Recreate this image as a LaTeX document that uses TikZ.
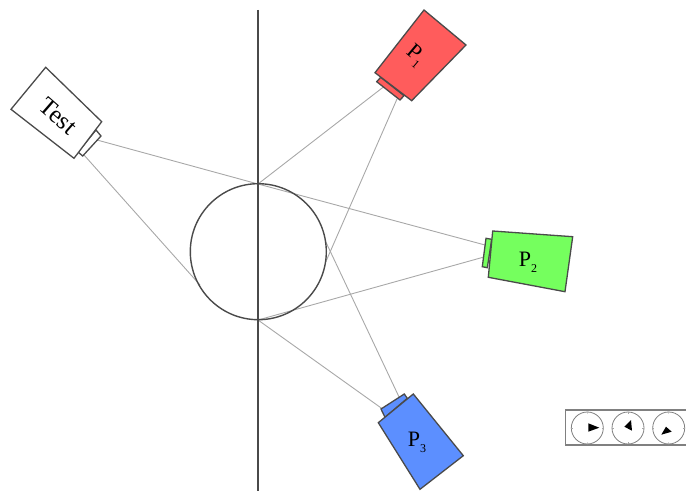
\documentclass[tikz,border=0pt]{standalone}
\usepackage{fontspec}
\usetikzlibrary{calc}
\setmainfont{Liberation Serif}
\newcommand{\subt}[1]{\raisebox{-.28em}{\fontsize{12}{12}\selectfont #1}}
\definecolor{edgecol}{HTML}{4A4A4A}
\definecolor{raycol}{HTML}{A8A8A8}
\definecolor{redcam}{HTML}{FF5C5C}
\definecolor{greencam}{HTML}{75FF5E}
\definecolor{bluecam}{HTML}{5C8FFF}
\tikzset{
  body/.style={draw=edgecol,line width=1.3pt,line join=miter},
  ray/.style={draw=raycol,line width=.9pt},
  axisline/.style={draw=edgecol,line width=1.3pt},
  sphere/.style={draw=edgecol,line width=1.4pt},
  lab/.style={font=\fontsize{22}{22}\selectfont,inner sep=0pt},
  testlab/.style={font=\fontsize{25}{25}\selectfont,inner sep=0pt},
  dial/.style={draw=gray,line width=.8pt},
  pointer/.style={fill=black,draw=none},
  panel/.style={draw=gray,line width=1.5pt}
}
\begin{document}
\begin{tikzpicture}[x=1pt,y=-1pt]
\useasboundingbox (0,0) rectangle (686,492);
% ray end points
\coordinate (ta) at (97,140);
\coordinate (tb) at (84,155);
\coordinate (sTop) at (258,184);
\coordinate (sBot) at (258,320);
\coordinate (sLeft) at (200,285);
\coordinate (oa) at (386,85);
\coordinate (ob) at (397,99);
\coordinate (oc) at (325.7,262);
\coordinate (wa) at (485,245);
\coordinate (wb) at (484,257);
\coordinate (ha) at (384,410);
\coordinate (hb) at (400,399);
\coordinate (hc) at (325.7,241.7);
% rays
\draw[ray] (ta) -- (sTop) -- (wa);
\draw[ray] (tb) -- (sLeft);
\draw[ray] (oa) -- (sTop);
\draw[ray] (ob) -- (oc);
\draw[ray] (wb) -- (sBot);
\draw[ray] (ha) -- (sBot);
\draw[ray] (hb) -- (hc);
% sphere and axis
\node[sphere,circle,minimum size=136pt,inner sep=0pt] (ball) at (258.3,251.7) {};
\coordinate (axT) at (258,10);
\coordinate (axB) at (258,491);
\draw[axisline] (axT) -- (axB);
% Test camera
\draw[body,fill=white] (96,130) -- (101,136) -- (82.7,156) -- (78,152) -- cycle;
\draw[body,fill=white] (45.7,67.3) -- (101.7,121.7) -- (74,158.3) -- (11,109.3) -- cycle;
\node[testlab,rotate=-41] (tl) at (58,116) {Test};
% P1
\draw[body,fill=redcam] (380.7,77.3) -- (404,95.7) -- (400,100) -- (376.7,81.7) -- cycle;
\draw[body,fill=redcam] (424,10) -- (466,45) -- (411.7,100.7) -- (375,72.7) -- cycle;
\node[lab,rotate=-40] (pa) at (415,56) {P\subt{1}};
% P2
\draw[body,fill=greencam] (486,238.3) -- (491.7,239.3) -- (487.3,267.7) -- (482.3,266.7) -- cycle;
\draw[body,fill=greencam] (492.7,231) -- (572.7,236.7) -- (565,291.7) -- (488.3,277.3) -- cycle;
\node[lab] (pb) at (528,262) {P\subt{2}};
% P3
\draw[body,fill=bluecam] (404.3,394) -- (407.3,398.3) -- (385,417.3) -- (381,409) -- cycle;
\draw[body,fill=bluecam] (413.3,394) -- (463.3,455.7) -- (420,489.3) -- (378.3,422.7) -- cycle;
\node[lab] (pc) at (417,442.5) {P\subt{3}};
% dial panel
\draw[panel] (686,410) -- (565.3,410) -- (565.3,445) -- (686,445);
\foreach \n/\cx in {da/587.3,db/628,dc/668.7}{
  \node[dial,circle,minimum size=32pt,inner sep=0pt] (\n) at (\cx,428) {};
  \foreach \a in {0,90,180,270}
    \draw[gray!70,line width=.5pt] (\n.\a) -- ($(\n)!0.88!(\n.\a)$);
}
\fill[pointer] (588.3,423.3) -- (588.3,431.7) -- (599.3,427.7) -- cycle;
\fill[pointer] (631,420) -- (632,430.7) -- (624.3,426.7) -- cycle;
\fill[pointer] (666,426.7) -- (671.7,431.7) -- (661.3,434.7) -- cycle;
\end{tikzpicture}
\end{document}
